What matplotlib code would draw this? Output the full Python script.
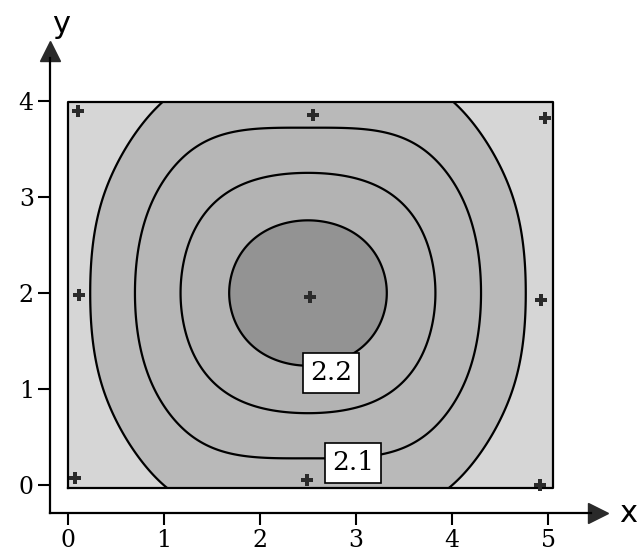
import numpy as np
import matplotlib
matplotlib.use("Agg")
import matplotlib.pyplot as plt

x_nos = [0.0, 1.25, 2.5, 3.75, 5.0]
y_nos = [0.0, 1.0, 2.0, 3.0, 4.0]
z_nos = [[1.970, 2.062, 2.070, 2.062, 1.970],   # y = 0
         [2.013, 2.128, 2.176, 2.128, 2.013],   # y = 1
         [2.025, 2.158, 2.242, 2.158, 2.025],   # y = 2
         [2.013, 2.128, 2.176, 2.128, 2.013],   # y = 3
         [1.970, 2.062, 2.070, 2.062, 1.970]]   # y = 4

# posicoes dos marcadores "+" (pontos de amostragem)
px = [0.07, 0.12, 0.10, 2.49, 2.52, 2.55, 4.92, 4.93, 4.97]
py = [0.07, 1.98, 3.90, 0.05, 1.96, 3.85, 0.00, 1.93, 3.82]

niveis = [1.90, 2.05, 2.10, 2.15, 2.20, 2.40]
cores = ["#d6d6d6", "#b9b9b9", "#b6b6b6", "#b3b3b3", "#939393"]
rotulos = [("2.2", 2.74, 1.17), ("2.1", 2.97, 0.23)]

ticks_x = [0, 1, 2, 3, 4, 5]
ticks_y = [0, 1, 2, 3, 4]


def spline_base(nos, t):
    """bases do spline cubico natural nos nos dados, avaliadas em t"""
    nos = np.asarray(nos)
    n = len(nos)
    h = np.diff(nos)
    A = np.zeros((n, n))
    B = np.zeros((n, n))
    A[0, 0] = A[-1, -1] = 1
    for i in range(1, n - 1):
        A[i, i - 1] = h[i - 1]
        A[i, i] = 2 * (h[i - 1] + h[i])
        A[i, i + 1] = h[i]
        B[i, i - 1] = 6 / h[i - 1]
        B[i, i] = -6 / h[i - 1] - 6 / h[i]
        B[i, i + 1] = 6 / h[i]
    Mmat = np.linalg.solve(A, B)
    k = np.clip(np.searchsorted(nos, t) - 1, 0, n - 2)
    hk = h[k]
    a = (nos[k + 1] - t) / hk
    b = (t - nos[k]) / hk
    bases = []
    for i in range(n):
        y = np.zeros(n)
        y[i] = 1
        M = Mmat @ y
        bases.append(a * y[k] + b * y[k + 1] + ((a**3 - a) * M[k] + (b**3 - b) * M[k + 1]) * hk**2 / 6)
    return bases


xg = np.linspace(0.0, 5.05, 300)
yg = np.linspace(-0.03, 3.99, 260)
X, Y = np.meshgrid(xg, yg)
Lx = spline_base(x_nos, X)
Ly = spline_base(y_nos, Y)
Z = np.zeros_like(X)
for j in range(len(y_nos)):
    for i in range(len(x_nos)):
        Z += z_nos[j][i] * Lx[i] * Ly[j]

fig = plt.figure(figsize=(6.37, 5.58), dpi=100)
ax = fig.add_axes([0, 0, 1, 1])
ax.set_xlim(-0.708, 5.927)
ax.set_ylim(-0.760, 5.052)
ax.set_facecolor("none")

ax.contourf(X, Y, Z, levels=niveis, colors=cores)
ax.contour(X, Y, Z, levels=niveis[1:-1], colors="black", linewidths=1.6)
ax.plot([0, 5.05, 5.05, 0, 0], [-0.03, -0.03, 3.99, 3.99, -0.03], color="black", lw=1.6)
ax.plot(px, py, "P", color="#2a2a2a", ms=9, mew=0)

for txt, tx, ty in rotulos:
    ax.text(tx, ty, txt, ha="center", va="center", fontsize=19, family="DejaVu Serif",
            bbox=dict(boxstyle="square,pad=0.28", fc="white", ec="black", lw=1.2), zorder=5)

# eixos com setas
for s in ["top", "right"]:
    ax.spines[s].set_visible(False)
ax.spines["left"].set_position(("data", -0.19))
ax.spines["bottom"].set_position(("data", -0.29))
ax.spines["left"].set_bounds(-0.29, 4.45)
ax.spines["bottom"].set_bounds(-0.19, 5.45)
ax.spines["left"].set_linewidth(1.6)
ax.spines["bottom"].set_linewidth(1.6)
ax.plot([-0.19], [4.52], "^", color="#2a2a2a", ms=15, clip_on=False)
ax.plot([5.52], [-0.29], ">", color="#2a2a2a", ms=15, clip_on=False)

ax.set_xticks(ticks_x)
ax.set_yticks(ticks_y)
ax.set_xticklabels([str(t) for t in ticks_x], family="DejaVu Serif", fontsize=17)
ax.set_yticklabels([str(t) for t in ticks_y], family="DejaVu Serif", fontsize=17)
ax.tick_params(axis="both", direction="out", length=8.5, width=1.5, pad=3)

ax.text(5.83, -0.3, "x", fontsize=22, ha="center", va="center", family="DejaVu Sans")
ax.text(-0.07, 4.8, "y", fontsize=22, ha="center", va="center", family="DejaVu Sans")

fig.savefig("out.png", dpi=100)
